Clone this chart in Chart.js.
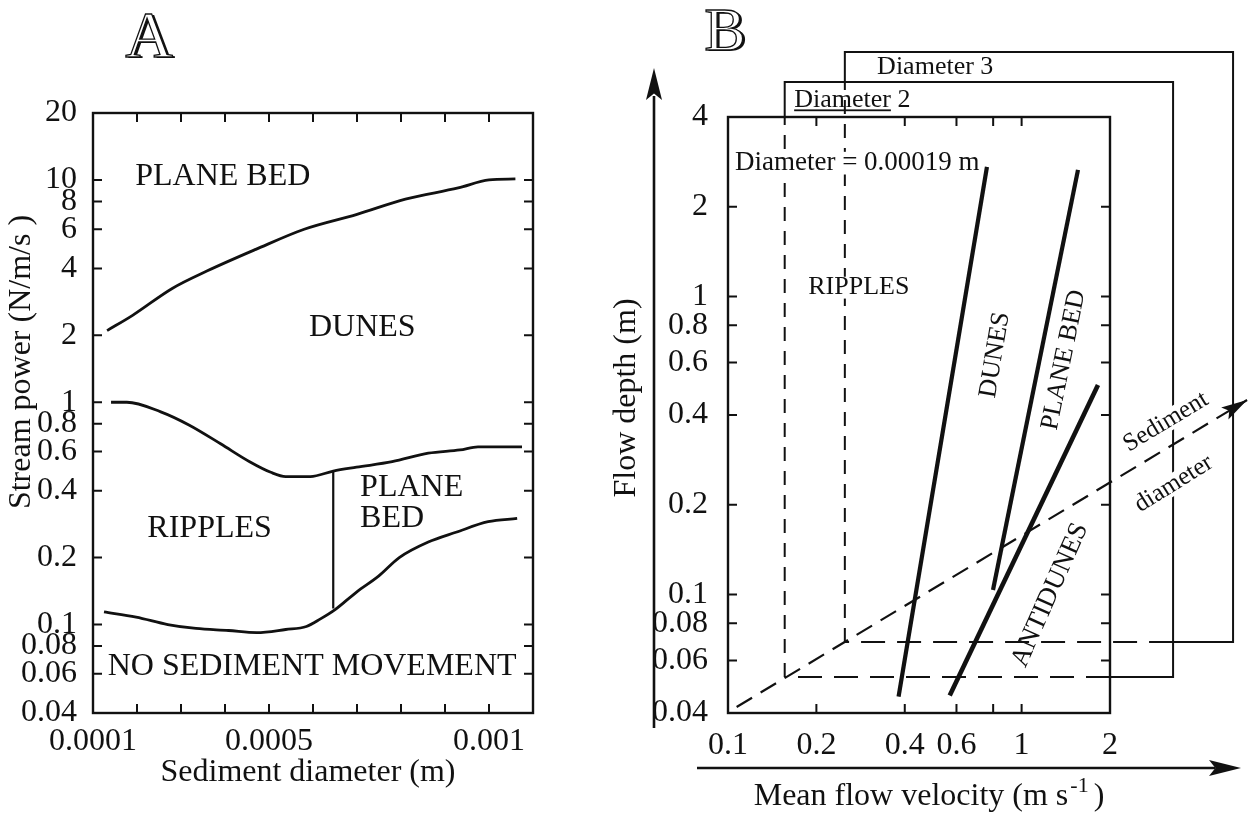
<!DOCTYPE html>
<html>
<head>
<meta charset="utf-8">
<title>Bedform stability diagrams</title>
<script src="https://cdn.jsdelivr.net/npm/chart.js@4.4.1/dist/chart.umd.min.js"></script>
<style>
  html, body { margin:0; padding:0; background:#fff; }
  #stage { position:relative; width:1258px; height:816px; background:#fff; overflow:hidden; }
  #chartA { position:absolute; left:0; top:0; }
  #chartB { position:absolute; left:600px; top:0; }
</style>
</head>
<body>
<div id="stage">
  <canvas id="chartA" width="600" height="816"></canvas>
  <canvas id="chartB" width="658" height="816"></canvas>
</div>
<script>
// ================= Panel A : stream power vs sediment diameter =================
const aDiamRange  = [0.0001, 0.0011];
const aPowerRange = [0.04, 20];
const aDiamTicks      = [0.0001, 0.0002, 0.0003, 0.0004, 0.0005, 0.0006, 0.0007, 0.0008, 0.0009, 0.001];
const aDiamTickLabels = ['0.0001', '', '', '', '0.0005', '', '', '', '', '0.001'];
const aPowerTicks      = [0.04, 0.06, 0.08, 0.1, 0.2, 0.4, 0.6, 0.8, 1, 2, 4, 6, 8, 10, 20];
const aPowerTickLabels = ['0.04', '0.06', '0.08', '0.1', '0.2', '0.4', '0.6', '0.8', '1', '2', '4', '6', '8', '10', '20'];

// dunes / upper plane bed boundary
const aUpperDiam  = [0.000132, 0.00019, 0.00028, 0.00036, 0.00047, 0.00058, 0.0007, 0.00081, 0.00093, 0.0010, 0.00106];
const aUpperPower = [2.1, 2.46, 3.25, 3.9, 4.87, 6.0, 7.0, 8.2, 9.2, 10.0, 10.1];
// ripples & lower plane bed / dunes boundary
const aMiddleDiam  = [0.000141, 0.000177, 0.000254, 0.000318, 0.00039, 0.000456, 0.000504, 0.000538, 0.000594, 0.000646, 0.000699, 0.00078, 0.000862, 0.000934, 0.000975, 0.001075];
const aMiddlePower = [1.0, 1.0, 0.905, 0.79, 0.65, 0.54, 0.484, 0.463, 0.463, 0.49, 0.51, 0.54, 0.59, 0.61, 0.63, 0.63];
// threshold of sediment movement
const aLowerDiam  = [0.000125, 0.000198, 0.00027, 0.000334, 0.000408, 0.000472, 0.000538, 0.000585, 0.000617, 0.000651, 0.000699, 0.000749, 0.000796, 0.000862, 0.000925, 0.000998, 0.001064];
const aLowerPower = [0.114, 0.108, 0.1, 0.096, 0.094, 0.092, 0.095, 0.098, 0.106, 0.117, 0.14, 0.165, 0.2, 0.235, 0.26, 0.29, 0.3];
// ripples / lower plane bed divide
const aDividerDiam  = [0.000646, 0.000646];
const aDividerPower = [0.49, 0.118];

const aRegionNames = ['PLANE BED', 'DUNES', 'RIPPLES', 'PLANE', 'BED', 'NO SEDIMENT MOVEMENT'];
const aRegionDiam  = [0.000395, 0.000712, 0.000365, 0.000707, 0.000707, 0.000598];
const aRegionPower = [10.4, 2.16, 0.269, 0.411, 0.301, 0.0644];

// ================= Panel B : flow depth vs mean flow velocity =================
const bVelRange   = [0.1, 2];
const bDepthRange = [0.04, 4];
const bVelTicks      = [0.1, 0.2, 0.4, 0.6, 0.8, 1, 2];
const bVelTickLabels = ['0.1', '0.2', '0.4', '0.6', '', '1', '2'];
const bDepthTicks      = [0.04, 0.06, 0.08, 0.1, 0.2, 0.4, 0.6, 0.8, 1, 2, 4];
const bDepthTickLabels = ['0.04', '0.06', '0.08', '0.1', '0.2', '0.4', '0.6', '0.8', '1', '2', '4'];

const bDunesVel = [0.381, 0.762];   const bDunesDepth = [0.0454, 2.72];
const bPlaneVel = [0.799, 1.556];   const bPlaneDepth = [0.1035, 2.66];
const bAntiVel  = [0.569, 1.82];    const bAntiDepth  = [0.0458, 0.504];
const bTrendVel = [0.107, 5.86];    const bTrendDepth = [0.0419, 0.449];
// [left velocity, bottom depth, right velocity, top depth]
const bBoxDiam2 = [0.156, 0.0528, 3.28, 5.24];
const bBoxDiam3 = [0.25, 0.0692, 5.25, 6.61];

const bRegionNames = ['Diameter = 0.00019 m', 'RIPPLES', 'DUNES', 'PLANE BED', 'ANTIDUNES', 'Diameter 2', 'Diameter 3', 'Sediment', 'diameter'];
const bRegionVel   = [0.1056, 0.279, 0.812, 1.394, 1.25, 0.168, 0.322, 3.10, 3.30];
const bRegionDepth = [2.80, 1.07, 0.636, 0.612, 0.0996, 4.56, 5.89, 0.379, 0.235];

// ================= styling helpers =================
const SERIF = "'Liberation Serif','Times New Roman',Times,serif";
const INK = '#111';

const aLabelStyle = [
  {align: 'center', size: 32}, {align: 'center', size: 32}, {align: 'center', size: 32},
  {align: 'left', size: 32}, {align: 'left', size: 32}, {align: 'center', size: 32}
];
const bLabelStyle = [
  {align: 'left', size: 27, bg: true}, {align: 'center', size: 26, bg: true}, {align: 'center', size: 26, rot: -80.5},
  {align: 'center', size: 26, rot: -78.5}, {align: 'center', size: 27, rot: -66},
  {align: 'left', size: 26, underline: 'Diameter'}, {align: 'left', size: 26},
  {align: 'center', size: 25, rot: -31, bg: true}, {align: 'center', size: 25, rot: -32, bg: true}
];

function pts(xs, ys) { return xs.map((x, i) => ({x: x, y: ys[i]})); }
function lineDs(xs, ys, width, extra) {
  return Object.assign({
    data: pts(xs, ys), showLine: true, borderColor: INK, backgroundColor: INK,
    borderWidth: width, pointRadius: 0, fill: false, tension: 0
  }, extra || {});
}
function boxPath(box, inner) {
  const [l, b, r, t] = box;
  return [{x: l, y: b}, {x: l, y: inner[1]}, {x: l, y: t}, {x: r, y: t}, {x: r, y: b}, {x: inner[0], y: b}, {x: l, y: b}];
}
function boxDs(box, inner) {
  const data = boxPath(box, inner);
  const eps = 1.000001;
  return {
    data: data, showLine: true, borderColor: INK, borderWidth: 2, pointRadius: 0, fill: false, clip: false,
    segment: {
      borderDash: ctx => {
        const p0 = data[ctx.p0DataIndex], p1 = data[ctx.p1DataIndex];
        const inside = p0.x <= inner[0] * eps && p1.x <= inner[0] * eps && p0.y <= inner[1] * eps && p1.y <= inner[1] * eps;
        if (!inside) return undefined;
        return (p0.x === p1.x) ? [14, 10] : [24, 12];
      }
    }
  };
}
function drawLabel(ctx, text, x, y, st) {
  ctx.save();
  ctx.font = st.size + 'px ' + SERIF;
  ctx.textAlign = st.align || 'center';
  ctx.textBaseline = 'middle';
  ctx.translate(x, y);
  if (st.rot) ctx.rotate(st.rot * Math.PI / 180);
  if (st.bg) {
    const w = ctx.measureText(text).width;
    const x0 = (st.align === 'left') ? -3 : -w / 2 - 3;
    ctx.fillStyle = '#fff';
    ctx.fillRect(x0, -st.size * 0.42, w + 6, st.size * 0.84);
  }
  ctx.fillStyle = INK;
  ctx.fillText(text, 0, 0);
  if (st.underline) {
    const w = ctx.measureText(st.underline).width;
    ctx.fillRect(0, st.size * 0.36, w, 1.8);
  }
  ctx.restore();
}
function outlineLetter(ctx, ch, x, y, size) {
  ctx.save();
  ctx.font = size + 'px ' + SERIF;
  ctx.textAlign = 'center';
  ctx.textBaseline = 'alphabetic';
  const base = y + size * 0.331;
  ctx.fillStyle = INK; ctx.fillText(ch, x + 2.5, base + 1.5);
  ctx.fillStyle = '#fff'; ctx.fillText(ch, x, base);
  ctx.lineWidth = 1.3; ctx.strokeStyle = INK; ctx.strokeText(ch, x, base);
  ctx.restore();
}
function arrowHead(ctx, x0, y0, x1, y1, len, half) {
  const ang = Math.atan2(y1 - y0, x1 - x0);
  ctx.save();
  ctx.fillStyle = INK;
  ctx.translate(x1, y1); ctx.rotate(ang);
  ctx.beginPath();
  ctx.moveTo(0, 0); ctx.lineTo(-len, -half); ctx.lineTo(-len * 0.8, 0); ctx.lineTo(-len, half);
  ctx.closePath(); ctx.fill();
  ctx.restore();
}
function frameTicks(xTicks, yTicks, len) {
  return {
    id: 'frameTicks',
    afterDatasetsDraw(chart) {
      const ctx = chart.ctx, a = chart.chartArea, xs = chart.scales.x, ys = chart.scales.y;
      ctx.save();
      ctx.strokeStyle = INK;
      ctx.lineWidth = 2.4;
      ctx.strokeRect(a.left, a.top, a.right - a.left, a.bottom - a.top);
      ctx.lineWidth = 2;
      ctx.beginPath();
      xTicks.forEach(v => {
        const p = xs.getPixelForValue(v);
        if (p > a.left + 2 && p < a.right - 2) {
          ctx.moveTo(p, a.bottom); ctx.lineTo(p, a.bottom - len);
          ctx.moveTo(p, a.top); ctx.lineTo(p, a.top + len);
        }
      });
      yTicks.forEach(v => {
        const p = ys.getPixelForValue(v);
        if (p > a.top + 2 && p < a.bottom - 2) {
          ctx.moveTo(a.left, p); ctx.lineTo(a.left + len, p);
          ctx.moveTo(a.right, p); ctx.lineTo(a.right - len, p);
        }
      });
      ctx.stroke();
      ctx.restore();
    }
  };
}
function axisCfg(type, range, ticks, labels, pad, fitFn) {
  return {
    type: type, min: range[0], max: range[1],
    grid: {display: false}, border: {display: false},
    afterBuildTicks: s => { s.ticks = ticks.map(v => ({value: v})); },
    afterFit: fitFn,
    ticks: {
      autoSkip: false, maxRotation: 0, minRotation: 0, padding: pad,
      color: INK, font: {family: SERIF, size: 32},
      callback: (v, i) => labels[i]
    }
  };
}

// ================= Chart A =================
const textA = {
  id: 'textA',
  afterDraw(chart) {
    const ctx = chart.ctx, xs = chart.scales.x, ys = chart.scales.y;
    aRegionNames.forEach((t, i) => {
      drawLabel(ctx, t, xs.getPixelForValue(aRegionDiam[i]), ys.getPixelForValue(aRegionPower[i]), aLabelStyle[i]);
    });
    drawLabel(ctx, 'Sediment diameter (m)', 308, 773, {size: 32});
    drawLabel(ctx, 'Stream power (N/m/s )', 22, 362, {size: 32, rot: -90});
    outlineLetter(ctx, 'A', 149, 35, 66);
  }
};

new Chart(document.getElementById('chartA'), {
  type: 'scatter',
  data: {
    datasets: [
      lineDs(aUpperDiam, aUpperPower, 2.8, {cubicInterpolationMode: 'monotone'}),
      lineDs(aMiddleDiam, aMiddlePower, 2.8, {cubicInterpolationMode: 'monotone'}),
      lineDs(aLowerDiam, aLowerPower, 2.8, {cubicInterpolationMode: 'monotone'}),
      lineDs(aDividerDiam, aDividerPower, 2.2)
    ]
  },
  options: {
    responsive: false, animation: false, events: [], devicePixelRatio: 1,
    layout: {padding: {left: 0, right: 67, top: 113, bottom: 23}},
    plugins: {legend: {display: false}, tooltip: {enabled: false}},
    scales: {
      x: axisCfg('linear', aDiamRange, aDiamTicks, aDiamTickLabels, 1, s => { s.height = 80; }),
      y: axisCfg('logarithmic', aPowerRange, aPowerTicks, aPowerTickLabels, 8, s => { s.width = 93; })
    }
  },
  plugins: [frameTicks(aDiamTicks, aPowerTicks, 9), textA]
});

// ================= Chart B =================
const textB = {
  id: 'textB',
  afterDraw(chart) {
    const ctx = chart.ctx, xs = chart.scales.x, ys = chart.scales.y;
    bRegionNames.forEach((t, i) => {
      drawLabel(ctx, t, xs.getPixelForValue(bRegionVel[i]), ys.getPixelForValue(bRegionDepth[i]), bLabelStyle[i]);
    });
    // arrow head on the sediment-diameter trend line
    arrowHead(ctx,
      xs.getPixelForValue(bTrendVel[0]), ys.getPixelForValue(bTrendDepth[0]),
      xs.getPixelForValue(bTrendVel[1]), ys.getPixelForValue(bTrendDepth[1]), 26, 7);
    // big axis arrows
    ctx.save();
    ctx.strokeStyle = INK; ctx.lineWidth = 2.6;
    ctx.beginPath();
    ctx.moveTo(54, 728); ctx.lineTo(54, 96);
    ctx.moveTo(97, 768); ctx.lineTo(615, 768);
    ctx.stroke();
    ctx.restore();
    arrowHead(ctx, 54, 728, 54, 68, 32, 8);
    arrowHead(ctx, 97, 768, 641, 768, 32, 8);
    // axis titles
    drawLabel(ctx, 'Flow depth (m)', 27, 398, {size: 32, rot: -90});
    ctx.save();
    ctx.fillStyle = INK; ctx.textBaseline = 'middle'; ctx.textAlign = 'left';
    const main = 'Mean flow velocity (m s', sup = '-1', tail = ')';
    ctx.font = '32px ' + SERIF; const w1 = ctx.measureText(main).width, w3 = ctx.measureText(tail).width;
    ctx.font = '22px ' + SERIF; const w2 = ctx.measureText(sup).width;
    const left = 329 - (w1 + w2 + w3 + 7) / 2, yT = 797;
    ctx.font = '32px ' + SERIF; ctx.fillText(main, left, yT);
    ctx.font = '22px ' + SERIF; ctx.fillText(sup, left + w1 + 2, yT - 11);
    ctx.font = '32px ' + SERIF; ctx.fillText(tail, left + w1 + w2 + 7, yT);
    ctx.restore();
    outlineLetter(ctx, 'B', 125, 29, 62);
  }
};

new Chart(document.getElementById('chartB'), {
  type: 'scatter',
  data: {
    datasets: [
      lineDs(bDunesVel, bDunesDepth, 4.2),
      lineDs(bPlaneVel, bPlaneDepth, 4.2),
      lineDs(bAntiVel, bAntiDepth, 4.6),
      lineDs(bTrendVel, bTrendDepth, 2.2, {borderDash: [18, 10], clip: false}),
      boxDs(bBoxDiam2, [bVelRange[1], bDepthRange[1]]),
      boxDs(bBoxDiam3, [bBoxDiam2[2], bBoxDiam2[3]])
    ]
  },
  options: {
    responsive: false, animation: false, events: [], devicePixelRatio: 1,
    layout: {padding: {left: 0, right: 148, top: 117, bottom: 23}},
    plugins: {legend: {display: false}, tooltip: {enabled: false}},
    scales: {
      x: axisCfg('logarithmic', bVelRange, bVelTicks, bVelTickLabels, 5, s => { s.height = 80; }),
      y: axisCfg('logarithmic', bDepthRange, bDepthTicks, bDepthTickLabels, 12, s => { s.width = 128; })
    }
  },
  plugins: [frameTicks(bVelTicks, bDepthTicks, 9), textB]
});
</script>
</body>
</html>
